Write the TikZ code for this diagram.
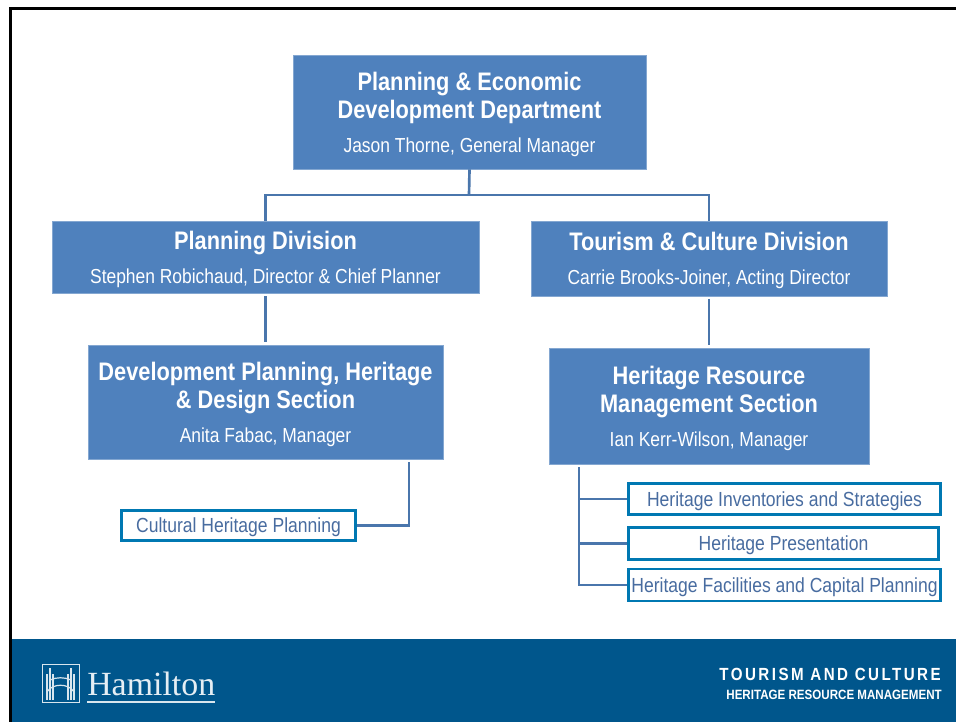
\documentclass[tikz,border=0pt]{standalone}
\usepackage{fontspec}
\usepackage{xcolor}
\setmainfont{Liberation Sans}[FakeStretch=0.86]
\newfontfamily\logofont{Liberation Serif}
\definecolor{hamblue}{RGB}{79, 129, 189}
\definecolor{hamband}{RGB}{0, 86, 140}
\definecolor{hamline}{RGB}{74, 118, 172}
\definecolor{hamedge}{RGB}{0, 120, 178}
\definecolor{hamtext}{RGB}{72, 108, 160}
\usetikzlibrary{positioning}
\tikzset{
    unitbox/.style={rectangle, draw=hamblue!70, fill=hamblue, text=white, align=center, inner sep=0pt, line width=0.5pt, font=\fontsize{15}{21}\selectfont},
    taskbox/.style={rectangle, draw=hamedge, fill=white, text=hamtext, align=center, inner sep=0pt, line width=2.2pt, text height=14pt, text depth=3pt, font=\fontsize{15.3}{18}\selectfont},
    link/.style={draw=hamline, line width=2pt},
    logoline/.style={draw=white!85!hamband, line width=0.9pt},
}
\newcommand{\unithead}[1]{\raisebox{-1.6pt}[\dimexpr\height+1.6pt\relax]{\bfseries\fontsize{19}{21}\selectfont #1}}
\newcommand{\unitname}[1]{{\fontsize{15.2}{21}\selectfont #1}}

\begin{document}
\begin{tikzpicture}[x=0.75pt, y=-0.75pt]
    \useasboundingbox (0,0) rectangle (956,722);
    % Frame and footer band
    \fill[white] (0,0) rectangle (956,722);
    \draw[black, line width=2.4pt] (956,8.5) -- (10.5,8.5) -- (10.5,722);
    \fill[hamband] (12,639) rectangle (956,722);

    % Department and divisions
    \node[unitbox, minimum width=265pt, minimum height=85.5pt] (dept) at (469.5,112) {\unithead{Planning \& Economic}\\\unithead{Development Department}\\[6pt]\unitname{Jason Thorne, General Manager}};
    \node[unitbox, minimum width=320pt, minimum height=54pt] (plan) at (265.5,257) {\unithead{Planning Division}\\[6pt]\unitname{Stephen Robichaud, Director \& Chief Planner}};
    \node[unitbox, minimum width=267pt, minimum height=56pt] (tour) at (709,258.5) {\unithead{Tourism \& Culture Division}\\[6pt]\unitname{Carrie Brooks-Joiner, Acting Director}};

    % Sections
    \node[unitbox, minimum width=266pt, minimum height=85.5pt] (devp) at (265.5,402) {\unithead{Development Planning, Heritage}\\\unithead{\& Design Section}\\[6pt]\unitname{Anita Fabac, Manager}};
    \node[unitbox, minimum width=240pt, minimum height=87pt] (hrm) at (709,406) {\unithead{Heritage Resource}\\\unithead{Management Section}\\[6pt]\unitname{Ian Kerr-Wilson, Manager}};

    % Work areas
    \node[taskbox, minimum width=175pt, minimum height=23pt] (cult) at (238.5,525.5) {Cultural Heritage Planning};
    \node[taskbox, minimum width=234pt, minimum height=23.5pt] (inv) at (784.5,499) {Heritage Inventories and Strategies};
    \node[taskbox, minimum width=233pt, minimum height=23.5pt] (pres) at (783.5,543.5) {Heritage Presentation};
    \node[taskbox, minimum width=234pt, minimum height=24pt] (fac) at (784.5,585) {Heritage Facilities and Capital Planning};

    % Connectors
    \coordinate (bus) at (469,195);
    \coordinate (devdrop) at (409,462);
    \coordinate (hrmdrop) at (579,467);
    \draw[link] (dept.south) -- (bus);
    \draw[link] (plan.north) |- (bus);
    \draw[link] (tour.north) |- (bus);
    \draw[link, shorten <=2pt, shorten >=2pt] (plan) -- (devp);
    \draw[link, shorten <=2pt, shorten >=2pt] (tour) -- (hrm);
    \draw[link] (cult.east) -| (devdrop);
    \draw[link] (hrmdrop) |- (fac.west);
    \draw[link] (hrmdrop |- inv.west) -- (inv.west);
    \draw[link] (hrmdrop |- pres.west) -- (pres.west);

    % Logo
    \draw[logoline, line width=0.7pt] (42,664) rectangle (79,702);
    \foreach \px/\py in {47/674,50/668,53/674,68/674,71/668,74/674} {
        \draw[logoline] (\px,\py) -- (\px,700);
    }
    \draw[logoline] (50,680) .. controls (56,677) and (65,677) .. (71,680);
    \draw[logoline] (47,692) .. controls (52,683) and (69,683) .. (74,692);
    \node[text=white!90!hamband, font=\logofont\fontsize{25.4}{30}\selectfont, anchor=base west, inner sep=0pt] (hamname) at (87,695) {Hamilton};
    \draw[logoline] (hamname.west |- 0,702) -- (hamname.east |- 0,702);

    % Footer labels
    \node[text=white, font=\bfseries\fontsize{13.2}{15}\selectfont, anchor=base east, inner sep=0pt] (dname) at (941,680) {\addfontfeature{LetterSpace=14}TOURISM AND CULTURE};
    \node[text=white, font=\bfseries\fontsize{10.1}{12}\selectfont, anchor=base east, inner sep=0pt] (sname) at (942,699) {HERITAGE RESOURCE MANAGEMENT};
\end{tikzpicture}
\end{document}
